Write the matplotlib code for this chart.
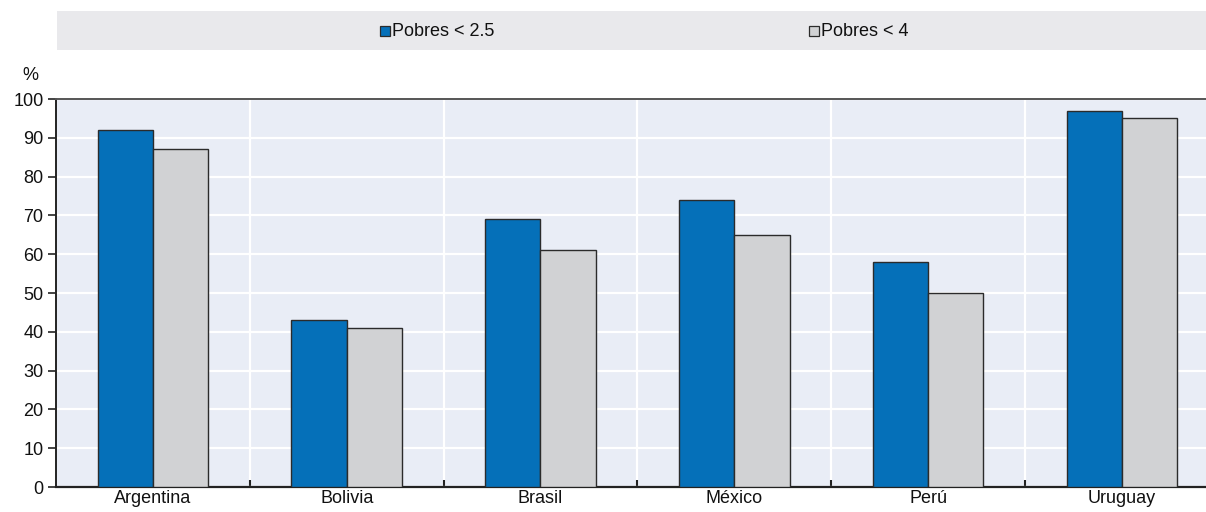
import matplotlib
matplotlib.use("Agg")
import matplotlib.pyplot as plt
from matplotlib.patches import Rectangle
import numpy as np

countries = ["Argentina", "Bolivia", "Brasil", "México", "Perú", "Uruguay"]
pobres_25 = [92, 43, 69, 74, 58, 97]
pobres_4 = [87, 41, 61, 65, 50, 95]
series_labels = ["Pobres < 2.5", "Pobres < 4"]
yticks = [0, 10, 20, 30, 40, 50, 60, 70, 80, 90, 100]

plt.rcParams['font.family'] = ['Liberation Sans Narrow', 'Liberation Sans', 'DejaVu Sans']

W, H = 1206, 512
fig = plt.figure(figsize=(W / 100, H / 100), dpi=100)
ax = fig.add_axes([56 / W, 1 - 487 / H, 1 - 56 / W, (487 - 99) / H])

blue = "#0570b9"
grey = "#d1d2d4"
bg = "#e9edf6"

x = np.arange(len(countries))
bw = 0.285
ax.set_facecolor(bg)
ax.bar(x - bw / 2, pobres_25, bw, color=blue, edgecolor="#2b2b2b", linewidth=1.0, zorder=3)
ax.bar(x + bw / 2, pobres_4, bw, color=grey, edgecolor="#2b2b2b", linewidth=1.0, zorder=3)

ax.set_xlim(-0.5, 5.434)
ax.set_ylim(0, 100)
ax.set_yticks(yticks)
ax.set_yticklabels([str(v) for v in yticks], fontsize=13, color="#111111")
ax.set_xticks(x)
ax.set_xticklabels(countries, fontsize=13, color="#111111")
ax.tick_params(axis="x", length=0, pad=2)
ax.tick_params(axis="y", length=6, width=1.2, direction="out", pad=3, color="#222222")

# group separators
ax.set_xticks(np.arange(0.5, len(countries) - 0.5, 1), minor=True)
ax.tick_params(axis="x", which="minor", length=5, width=1.5, direction="in", color="#222222")
ax.grid(axis="y", color="white", linewidth=1.6, zorder=1)
ax.grid(axis="x", which="minor", color="white", linewidth=1.6, zorder=1)
ax.grid(axis="x", which="major", visible=False)

ax.spines["right"].set_visible(False)
ax.spines["top"].set_color("#555555")
ax.spines["top"].set_linewidth(1.4)
ax.spines["left"].set_color("#222222")
ax.spines["left"].set_linewidth(1.4)
ax.spines["bottom"].set_color("#222222")
ax.spines["bottom"].set_linewidth(1.6)

fig.text(30 / W, 1 - 75 / H, "%", fontsize=13, ha="center", va="center", color="#111111")

# legend band
fig.patches.append(Rectangle((57 / W, 1 - 50 / H), 1 - 57 / W, 39 / H,
                             transform=fig.transFigure, facecolor="#e9e9ec",
                             edgecolor="none", zorder=0))
for (px, col, lab) in [(380, blue, series_labels[0]), (809, grey, series_labels[1])]:
    fig.patches.append(Rectangle((px / W, 1 - 36 / H), 10 / W, 10 / H,
                                 transform=fig.transFigure, facecolor=col,
                                 edgecolor="#2b2b2b", linewidth=0.9, zorder=2))
    fig.text((px + 12) / W, 1 - 31 / H, lab, fontsize=13, ha="left", va="center",
             color="#111111")

fig.savefig("out.png", dpi=100)
